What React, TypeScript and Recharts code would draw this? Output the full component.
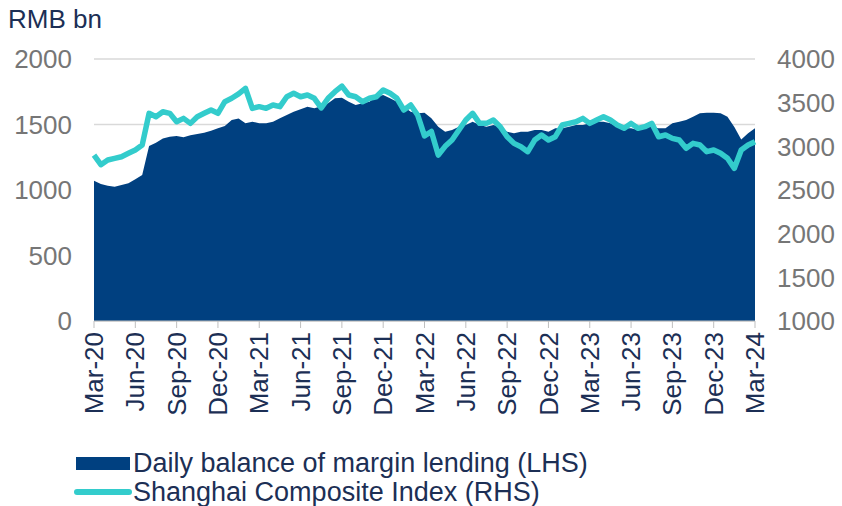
import React from 'react';
import { ComposedChart, Area, Line, XAxis, YAxis, CartesianGrid } from 'recharts';

// half-monthly readings, Mar-20 .. Mar-24 (97 points)
const marginLending = [
  1071, 1046, 1033, 1025, 1038, 1051, 1082, 1115, 1336, 1361, 1394, 1407, 1412, 1402, 1418, 1427,
  1437, 1453, 1471, 1489, 1534, 1545, 1509, 1521, 1509, 1509, 1521, 1547, 1573, 1598, 1616, 1636,
  1625, 1640, 1662, 1700, 1705, 1674, 1649, 1662, 1674, 1712, 1725, 1700, 1674, 1636, 1598, 1585,
  1590, 1547, 1483, 1445, 1458, 1483, 1496, 1521, 1496, 1483, 1496, 1483, 1445, 1433, 1445, 1445,
  1458, 1458, 1445, 1471, 1471, 1483, 1496, 1496, 1509, 1521, 1521, 1509, 1483, 1471, 1471, 1458,
  1496, 1483, 1471, 1471, 1509, 1521, 1534, 1560, 1585, 1590, 1590, 1585, 1560, 1480, 1385, 1433,
  1471,
];

const shanghaiIndex = [
  2900, 2790, 2843, 2862, 2881, 2920, 2958, 3015, 3378, 3339, 3396, 3378, 3282, 3320, 3263, 3339,
  3378, 3416, 3378, 3511, 3550, 3600, 3664, 3435, 3454, 3435, 3473, 3454, 3568, 3607, 3568, 3588,
  3550, 3440, 3550, 3626, 3690, 3588, 3568, 3511, 3550, 3568, 3645, 3607, 3550, 3416, 3473, 3359,
  3120, 3170, 2900, 3000, 3072, 3187, 3301, 3378, 3263, 3263, 3301, 3225, 3110, 3034, 2996, 2939,
  3072, 3130, 3072, 3110, 3244, 3263, 3282, 3320, 3263, 3301, 3339, 3301, 3244, 3206, 3263, 3206,
  3225, 3263, 3110, 3130, 3091, 3072, 2977, 3034, 3015, 2939, 2958, 2920, 2863, 2748, 2958, 3015,
  3053,
];

const tickLabels = [
  'Mar-20', 'Jun-20', 'Sep-20', 'Dec-20', 'Mar-21', 'Jun-21', 'Sep-21', 'Dec-21', 'Mar-22',
  'Jun-22', 'Sep-22', 'Dec-22', 'Mar-23', 'Jun-23', 'Sep-23', 'Dec-23', 'Mar-24',
];

const leftTicks = [0, 500, 1000, 1500, 2000];
const rightTicks = [1000, 1500, 2000, 2500, 3000, 3500, 4000];

const data = marginLending.map((v, i) => ({ i, margin: v, index: shanghaiIndex[i] }));
const xTicks = tickLabels.map((_, k) => k * 6);

const FONT = '"Liberation Sans", Arial, sans-serif';
const NAVY = '#004080';
const CYAN = '#33cccc';
const TEXT = '#1c2f55';
const GREY = '#767676';

const DateTick = (props: any) => {
  const { x, y, payload } = props;
  return (
    <g transform={`translate(${x},${y})`}>
      <text
        x={0}
        y={0}
        dy="0.35em"
        textAnchor="end"
        transform="rotate(-90)"
        fill={TEXT}
        fontSize={26}
        fontFamily={FONT}
      >
        {tickLabels[Math.round(payload.value / 6)]}
      </text>
    </g>
  );
};

export default function App() {
  return (
    <div style={{ position: 'absolute', left: 0, top: 0, width: 842, height: 506, background: '#fff', fontFamily: FONT }}>
      <svg width={842} height={506} style={{ position: 'absolute', left: 0, top: 0 }}>
        <text x={8} y={28} fontSize={26} fill={TEXT} fontFamily={FONT}>RMB bn</text>
        <rect x={76} y={457} width={54} height={13} fill={NAVY} />
        <line x1={77} y1={492} x2={129} y2={492} stroke={CYAN} strokeWidth={6} strokeLinecap="round" />
        <text x={133} y={472} fontSize={27} fill={TEXT} fontFamily={FONT}>Daily balance of margin lending (LHS)</text>
        <text x={133} y={501} fontSize={27} fill={TEXT} fontFamily={FONT}>Shanghai Composite Index (RHS)</text>
      </svg>
      <div style={{ position: 'absolute', left: 0, top: 0 }}>
        <ComposedChart
          width={842}
          height={440}
          data={data}
          margin={{ top: 59, right: 0, left: 0, bottom: 19 }}
        >
          <CartesianGrid yAxisId="left" vertical={false} stroke="#d9d9d9" strokeWidth={1.5} />
          <XAxis
            dataKey="i"
            type="number"
            domain={[0, 96]}
            ticks={xTicks}
            interval={0}
            height={100}
            tickSize={7}
            tickMargin={4}
            stroke="#bfbfbf"
            tick={<DateTick />}
          />
          <YAxis
            yAxisId="left"
            width={94}
            domain={[0, 2000]}
            ticks={leftTicks}
            axisLine={false}
            tickLine={false}
            tickMargin={16}
            tick={{ fill: GREY, fontSize: 26, fontFamily: FONT }}
          />
          <YAxis
            yAxisId="right"
            orientation="right"
            width={87}
            domain={[1000, 4000]}
            ticks={rightTicks}
            axisLine={false}
            tickLine={false}
            tickMargin={16}
            tick={{ fill: GREY, fontSize: 26, fontFamily: FONT }}
          />
          <Area
            yAxisId="left"
            type="linear"
            dataKey="margin"
            stroke="none"
            fill={NAVY}
            fillOpacity={1}
            isAnimationActive={false}
          />
          <Line
            yAxisId="right"
            type="linear"
            dataKey="index"
            stroke={CYAN}
            strokeWidth={5.5}
            strokeLinejoin="round"
            dot={false}
            activeDot={false}
            isAnimationActive={false}
          />
        </ComposedChart>
      </div>
    </div>
  );
}
